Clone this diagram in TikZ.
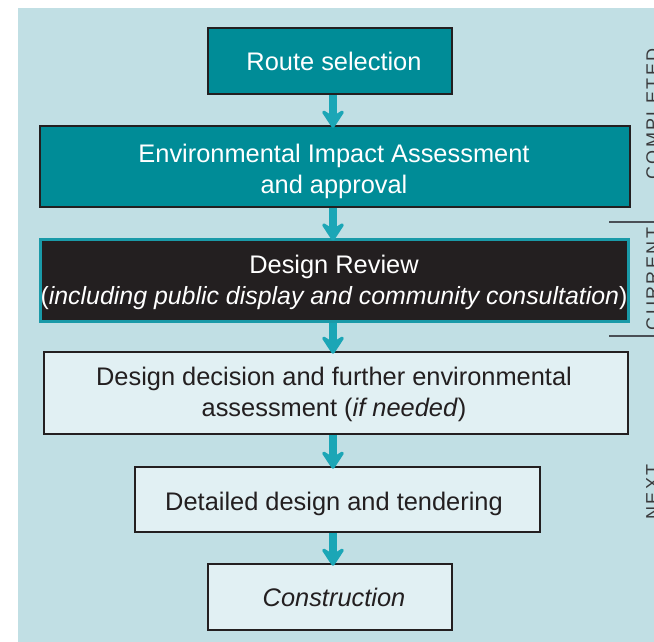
\documentclass[tikz,border=0pt]{standalone}
\usepackage{fontspec}
\setmainfont{Liberation Sans}
\newfontfamily\sidefont[LetterSpace=13]{Liberation Sans}
\usetikzlibrary{arrows.meta,calc}
\definecolor{bgc}{HTML}{C1DFE4}
\definecolor{tealc}{HTML}{008C97}
\definecolor{arrowc}{HTML}{1BA6B6}
\definecolor{darkc}{HTML}{231F20}
\definecolor{lightc}{HTML}{E1F0F3}
\definecolor{drborder}{HTML}{1A9AA8}
\definecolor{sidec}{HTML}{3A3A3C}
\definecolor{linec}{HTML}{4A4F55}
\tikzset{
  basebox/.style={rectangle, inner sep=0pt},
  tealbox/.style={basebox, fill=tealc, draw=darkc, line width=2.5pt},
  darkbox/.style={basebox, fill=darkc, draw=drborder, line width=3pt},
  lightbox/.style={basebox, fill=lightc, draw=darkc, line width=2.5pt},
  boxtext/.style={inner sep=0pt, align=center, font=\fontsize{25.4}{30.5}\selectfont},
  whitetext/.style={boxtext, text=white},
  darktext/.style={boxtext, text=darkc},
  flowarrow/.style={draw=arrowc, line width=8pt,
    -{Stealth[width=29pt, length=22pt, inset=9pt, round=false]}},
  sidelabel/.style={rotate=90, anchor=north, inner sep=0pt, text=sidec,
    font=\sidefont\fontsize{18}{20}\selectfont},
  sideline/.style={draw=linec, line width=1.3pt}
}
\begin{document}
\begin{tikzpicture}[x=1pt, y=-1pt]
\useasboundingbox (0,0) rectangle (654,642);
\clip (0,0) rectangle (654,642);
\fill[bgc] (18,8) rectangle (660,650);

\node[tealbox, minimum width=244pt, minimum height=66pt] (rs) at (330,61) {};
\node[tealbox, minimum width=590pt, minimum height=81pt] (eia) at (335,166.5) {};
\node[darkbox, minimum width=588pt, minimum height=82pt] (dr) at (334,280) {};
\node[lightbox, minimum width=584pt, minimum height=82pt] (dd) at (336,393) {};
\node[lightbox, minimum width=405pt, minimum height=65pt] (dt) at (337.5,499.5) {};
\node[lightbox, minimum width=244pt, minimum height=66pt] (con) at (330,597) {};

\coordinate (tx) at (334,0);
\node[whitetext] (rst) at ($(rs.center -| tx)+(0,0)$) {Route selection};
\node[whitetext] (eiat) at ($(eia.center -| tx)+(0,5)$)
  {Environmental Impact Assessment\\and approval};
\node[whitetext] (drt) at ($(dr.center -| tx)+(0,2.5)$)
  {Design Review\\{\fontsize{24.9}{30.5}\selectfont(\textit{including public display and community consultation})}};
\node[darktext] (ddt) at ($(dd.center -| tx)+(0,1.5)$)
  {Design decision and further environmental\\assessment (\textit{if needed})};
\node[darktext] (dtt) at ($(dt.center -| tx)+(0,4)$)
  {Detailed design and tendering};
\node[darktext] (cont) at ($(con.center -| tx)+(0,0.5)$)
  {\textit{Construction}};

\coordinate (ax) at (333,0);
\draw[flowarrow] (rs.south -| ax) -- ($(eia.north -| ax)+(0,3)$);
\draw[flowarrow] (eia.south -| ax) -- ($(dr.north -| ax)+(0,3)$);
\draw[flowarrow] (dr.south -| ax) -- ($(dd.north -| ax)+(0,3)$);
\draw[flowarrow] (dd.south -| ax) -- ($(dt.north -| ax)+(0,3)$);
\draw[flowarrow] (dt.south -| ax) -- ($(con.north -| ax)+(0,3)$);

\node[sidelabel] (lc) at (646,114) {COMPLETED};
\node[sidelabel] (lu) at (646,279) {CURRENT};
\node[sidelabel] (ln) at (646,492) {NEXT};
\draw[sideline] (609,222) -- (660,222);
\draw[sideline] (609,336) -- (660,336);
\end{tikzpicture}
\end{document}
